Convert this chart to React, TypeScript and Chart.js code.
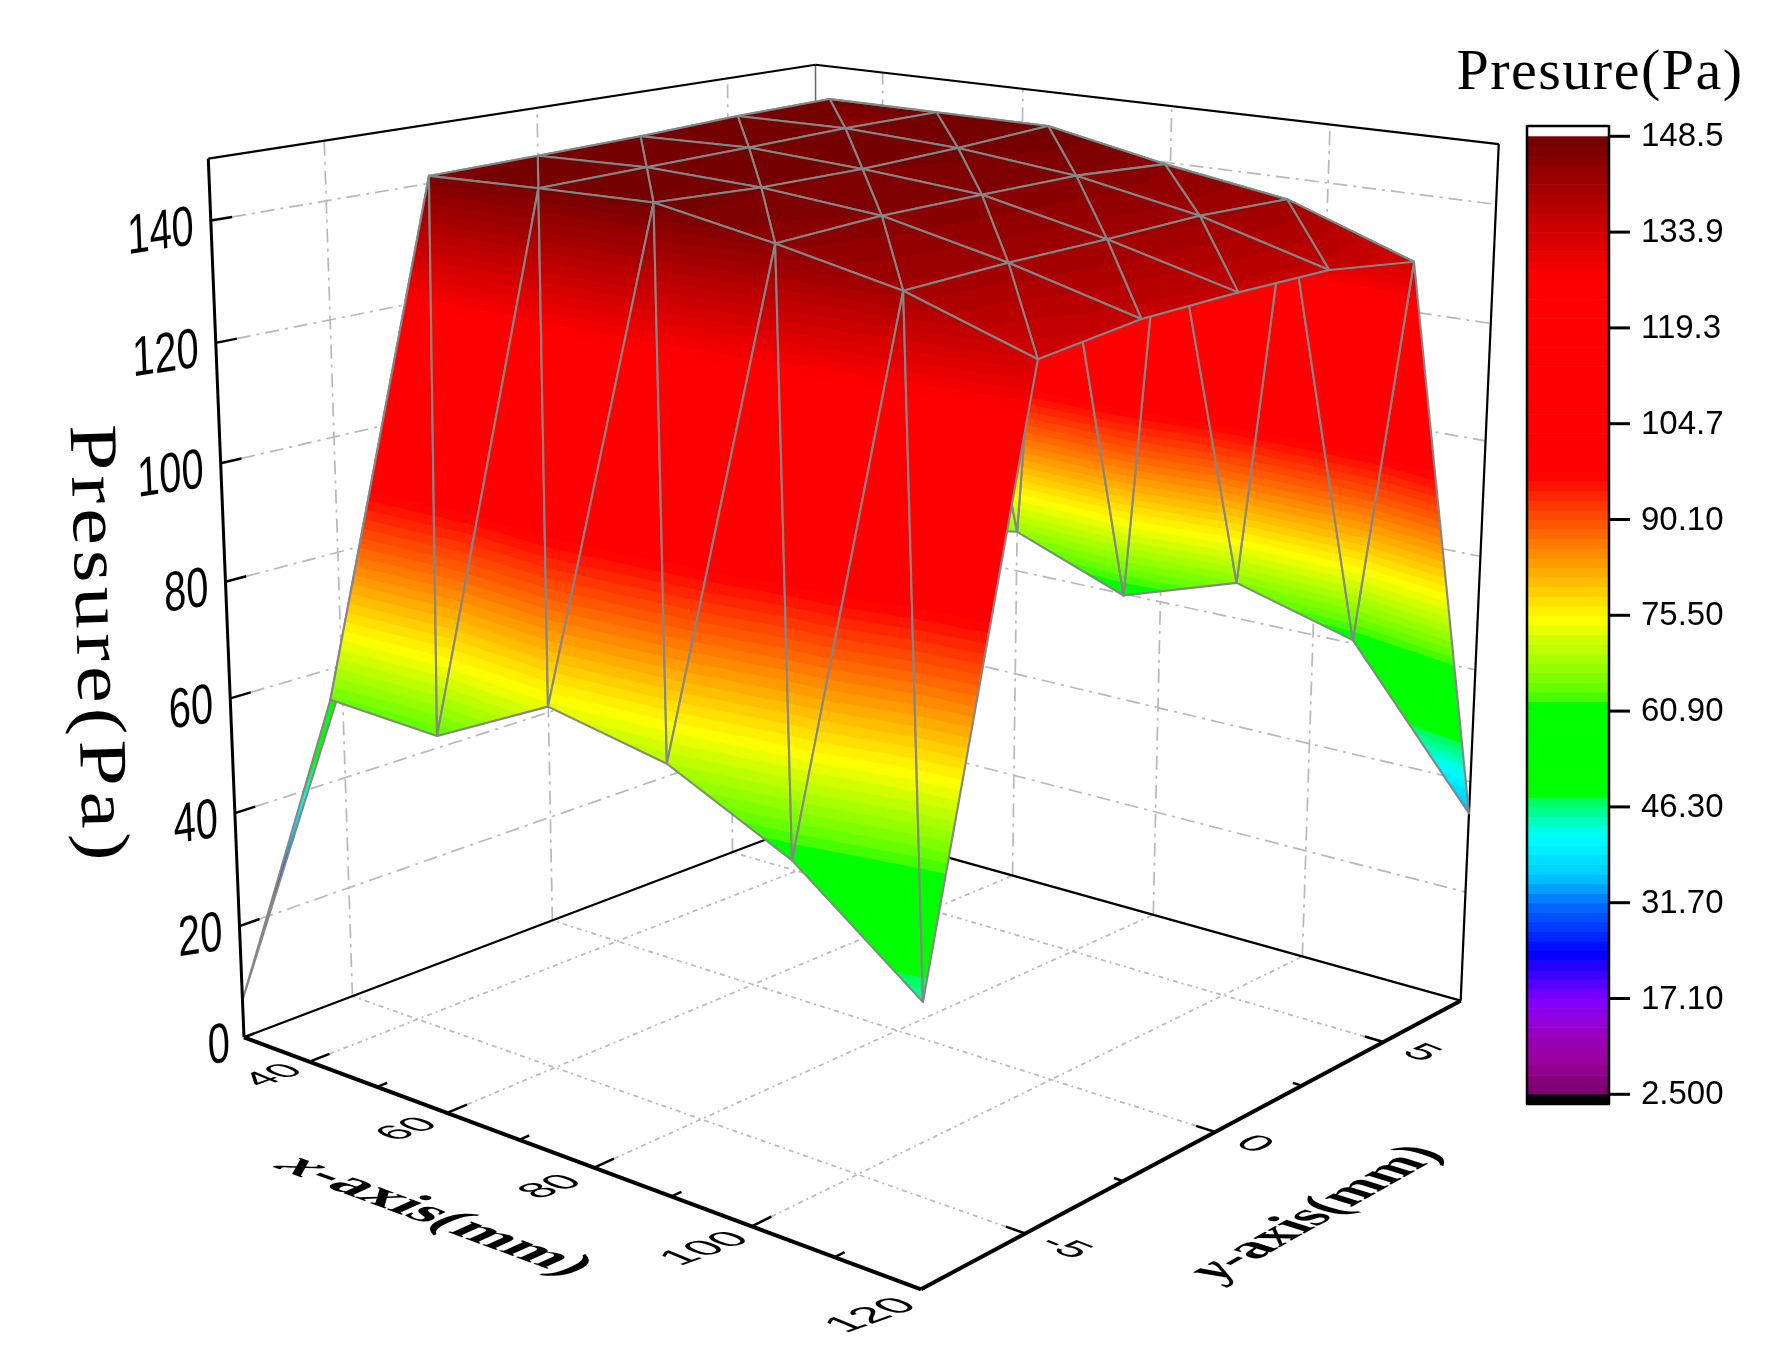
import React, { useEffect, useRef } from "react";
import { Chart, registerables } from "chart.js";

Chart.register(...registerables);

// ---- data ----
const xValues = [30, 45, 60, 75, 90, 105, 120];
const yValues = [-7.5, -5, -2.5, 0, 2.5, 5, 7.5];
const pressureYm75 = [6.7, 64.7, 63.7, 73.5, 69.6, 60.1, 44.5];
const pressureYm50 = [57, 146.8, 147.5, 148, 144.6, 140.6, 133.9];
const pressureYm25 = [62, 147.1, 147.8, 147.2, 145.5, 141.2, 135.9];
const pressureY00 = [63, 147.5, 148.1, 147.1, 145.6, 141.4, 136.2];
const pressureYp25 = [62, 148.2, 148.5, 147.6, 145.6, 141.8, 136.1];
const pressureYp50 = [60, 148.5, 148.5, 148.5, 144.5, 141.3, 133.9];
const pressureYp75 = [7, 64, 67.5, 59.7, 66.5, 60.6, 34.3];
const pressureRows = [pressureYm75, pressureYm50, pressureYm25, pressureY00, pressureYp25, pressureYp50, pressureYp75];

const xMajorTicks = [40, 60, 80, 100, 120];
const xMinorTicks = [30, 50, 70, 90, 110];
const yMajorTicks = [-5, 0, 5];
const yMinorTicks = [-2.5, 2.5];
const zTicks = [0, 20, 40, 60, 80, 100, 120, 140];
const colorbarLabels = ["148.5", "133.9", "119.3", "104.7", "90.10", "75.50", "60.90", "46.30", "31.70", "17.10", "2.500"];

const Z_MIN = 0, Z_MAX = 150;
const LEVEL_MIN = 2.5, LEVEL_MAX = 148.5, LEVEL_COUNT = 100;

const colorStops: [number, number[]][] = [
  [2.5, [119, 0, 102]], [7.7, [153, 0, 153]], [12.8, [153, 0, 204]], [17, [128, 0, 255]],
  [24, [0, 0, 255]], [31.7, [0, 112, 255]], [36, [0, 204, 255]], [42, [0, 255, 255]],
  [47.5, [0, 255, 85]], [48.1, [0, 255, 0]], [62.6, [0, 255, 0]], [63.2, [85, 255, 0]],
  [75, [255, 255, 0]], [97, [255, 0, 0]], [126.8, [255, 0, 0]], [148.5, [112, 0, 0]],
];

// ---- perspective camera of the 3D box (homogeneous basis) ----
const CAM_O = [244, 1037.3, 1];
const CAM_U = [545.3, 67.6, -0.143];
const CAM_V = [710.5, -77.4, 0.1698];
const CAM_W = [-47.8, -887.9, -0.058];

const xMin = xValues[0], xMax = xValues[xValues.length - 1];
const yMin = yValues[0], yMax = yValues[yValues.length - 1];

function homog(x: number, y: number, z: number) {
  const u = (x - xMin) / (xMax - xMin), v = (y - yMin) / (yMax - yMin), w = (z - Z_MIN) / (Z_MAX - Z_MIN);
  return [0, 1, 2].map((k) => CAM_O[k] + u * CAM_U[k] + v * CAM_V[k] + w * CAM_W[k]);
}
function project(x: number, y: number, z: number) {
  const h = homog(x, y, z);
  return { x: h[0] / h[2], y: h[1] / h[2] };
}
function colorFor(z: number) {
  for (let i = 1; i < colorStops.length; i++) {
    if (z <= colorStops[i][0]) {
      const [z0, c0] = colorStops[i - 1], [z1, c1] = colorStops[i];
      const t = Math.max(0, (z - z0) / (z1 - z0));
      return `rgb(${c0.map((c, k) => Math.round(c + (c1[k] - c) * t)).join(",")})`;
    }
  }
  return "rgb(112,0,0)";
}

type V3 = [number, number, number];
function clipAbove(poly: V3[], level: number): V3[] {
  const out: V3[] = [];
  for (let i = 0; i < poly.length; i++) {
    const a = poly[i], b = poly[(i + 1) % poly.length];
    const ia = a[2] >= level, ib = b[2] >= level;
    if (ia) out.push(a);
    if (ia !== ib) {
      const t = (level - a[2]) / (b[2] - a[2]);
      out.push([a[0] + (b[0] - a[0]) * t, a[1] + (b[1] - a[1]) * t, level]);
    }
  }
  return out;
}

const surface3D = {
  id: "surface3D",
  beforeDatasetsDraw(chart: any) {
    const ctx: CanvasRenderingContext2D = chart.ctx;
    const sx = (v: number) => chart.scales.x.getPixelForValue(v);
    const sy = (v: number) => chart.scales.y.getPixelForValue(v);
    const P = (x: number, y: number, z: number) => {
      const p = project(x, y, z);
      return [sx(p.x), sy(p.y)];
    };
    const line = (a: number[], b: number[], color: string, width: number, dash: number[] = []) => {
      ctx.save();
      ctx.strokeStyle = color;
      ctx.lineWidth = width;
      ctx.setLineDash(dash);
      ctx.beginPath();
      ctx.moveTo(a[0], a[1]);
      ctx.lineTo(b[0], b[1]);
      ctx.stroke();
      ctx.restore();
    };
    const text = (str: string, at: number[], r: number[], d: number[], font: string, align: CanvasTextAlign = "center", spacing = 0) => {
      ctx.save();
      ctx.transform(r[0], r[1], d[0], d[1], at[0], at[1]);
      ctx.font = font;
      (ctx as any).letterSpacing = `${spacing}px`;
      ctx.textAlign = align;
      ctx.textBaseline = "middle";
      ctx.fillStyle = "#000";
      ctx.fillText(str, 0, 0);
      ctx.restore();
    };
    // a title whose first letter (the variable name) is set in italics
    const varTitle = (head: string, tail: string, at: number[], r: number[], d: number[], size: number, weight: string) => {
      ctx.save();
      ctx.transform(r[0], r[1], d[0], d[1], at[0], at[1]);
      ctx.textBaseline = "middle";
      ctx.textAlign = "left";
      ctx.fillStyle = "#000";
      const fontHead = `italic ${weight} ${size}px "Liberation Serif"`;
      const fontTail = `${weight} ${size}px "Liberation Serif"`;
      ctx.font = fontHead;
      const w0 = ctx.measureText(head).width;
      ctx.font = fontTail;
      const w1 = ctx.measureText(tail).width;
      const start = -(w0 + w1) / 2;
      ctx.font = fontHead;
      ctx.fillText(head, start, 0);
      ctx.font = fontTail;
      ctx.fillText(tail, start + w0, 0);
      ctx.restore();
    };

    const GRID = "#b8b8b8";
    const WALL_DASH = [14, 6, 3, 6];
    const FLOOR_DASH = [5, 4, 2, 4];
    const xSpan = xMax - xMin, ySpan = yMax - yMin;

    // back walls and floor grid
    zTicks.slice(1).forEach((z) => {
      line(P(xMin, yMin + 0.03 * ySpan, z), P(xMin, yMax, z), GRID, 1.7, WALL_DASH);
      line(P(xMin, yMax, z), P(xMax, yMax, z), GRID, 1.7, WALL_DASH);
    });
    yMajorTicks.forEach((y) => {
      line(P(xMin, y, 0), P(xMin, y, Z_MAX), GRID, 1.7, WALL_DASH);
      line(P(xMax - 0.025 * xSpan, y, 0), P(xMin, y, 0), GRID, 1.7, FLOOR_DASH);
    });
    xMajorTicks.slice(0, -1).forEach((x) => {
      line(P(x, yMax, 0), P(x, yMax, Z_MAX), GRID, 1.7, WALL_DASH);
      line(P(x, yMin + 0.03 * ySpan, 0), P(x, yMax, 0), GRID, 1.7, FLOOR_DASH);
    });

    // box edges
    line(P(xMin, yMax, 0), P(xMin, yMax, Z_MAX), "#666", 1.5);
    line(P(xMin, yMin, Z_MAX), P(xMin, yMax, Z_MAX), "#000", 2.2);
    line(P(xMin, yMax, Z_MAX), P(xMax, yMax, Z_MAX), "#000", 2.2);
    line(P(xMax, yMax, 0), P(xMax, yMax, Z_MAX), "#000", 2.2);
    line(P(xMin, yMin, 0), P(xMin, yMax, 0), "#000", 2.2);
    line(P(xMax, yMax, 0), P(xMin, yMax, 0), "#000", 2.2);

    // surface, painted from far to near
    const meta = chart.getDatasetMeta(0).data;
    const nx = xValues.length, ny = yValues.length;
    const tris: number[][][] = [];
    for (let j = 0; j < ny - 1; j++) {
      for (let i = 0; i < nx - 1; i++) {
        tris.push([[i, j], [i + 1, j], [i, j + 1]]);
        tris.push([[i + 1, j], [i + 1, j + 1], [i, j + 1]]);
      }
    }
    const vert = (c: number[]): V3 => [xValues[c[0]], yValues[c[1]], pressureRows[c[1]][c[0]]];
    const depth = (t: number[][]) =>
      t.reduce((s, c) => { const v = vert(c); return s + homog(v[0], v[1], v[2])[2]; }, 0);
    tris.sort((a, b) => depth(b) - depth(a));
    const levelStep = (LEVEL_MAX - LEVEL_MIN) / LEVEL_COUNT;
    tris.forEach((t) => {
      const poly = t.map(vert);
      const zs = poly.map((p) => p[2]);
      const lo = Math.min(...zs), hi = Math.max(...zs);
      for (let k = 0; k < LEVEL_COUNT; k++) {
        const level = LEVEL_MIN + k * levelStep;
        if (level >= hi) break;
        if (level + levelStep <= lo) continue;
        const clipped = level <= lo ? poly : clipAbove(poly, level);
        if (clipped.length < 3) continue;
        ctx.fillStyle = colorFor(level + levelStep / 2);
        ctx.beginPath();
        clipped.forEach((p, n) => {
          const q = P(p[0], p[1], p[2]);
          if (n) ctx.lineTo(q[0], q[1]); else ctx.moveTo(q[0], q[1]);
        });
        ctx.closePath();
        ctx.fill();
      }
      ctx.strokeStyle = "#868686";
      ctx.lineWidth = 2.1;
      ctx.lineJoin = "round";
      ctx.beginPath();
      t.forEach((c, n) => {
        const el = meta[c[1] * nx + c[0]];
        if (n) ctx.lineTo(el.x, el.y); else ctx.moveTo(el.x, el.y);
      });
      ctx.closePath();
      ctx.stroke();
    });

    // axes
    line(P(xMin, yMin, 0), P(xMin, yMin, Z_MAX), "#000", 3);
    line(P(xMin, yMin, 0), P(xMax, yMin, 0), "#000", 4);
    line(P(xMax, yMin, 0), P(xMax, yMax, 0), "#000", 4);
    zTicks.slice(1).forEach((z) => line(P(xMin, yMin, z), P(xMin, yMin + 0.03 * ySpan, z), "#000", 2.5));
    xMajorTicks.slice(0, -1).forEach((x) => line(P(x, yMin, 0), P(x, yMin + 0.03 * ySpan, 0), "#000", 2.5));
    xMinorTicks.forEach((x) => line(P(x, yMin, 0), P(x, yMin + 0.015 * ySpan, 0), "#000", 2.5));
    yMajorTicks.forEach((y) => line(P(xMax, y, 0), P(xMax - 0.025 * xSpan, y, 0), "#000", 2.5));
    yMinorTicks.forEach((y) => line(P(xMax, y, 0), P(xMax - 0.012 * xSpan, y, 0), "#000", 2.5));

    // tick labels
    const SANS = '"Liberation Sans"';
    const SERIF = '"Liberation Serif"';
    zTicks.forEach((z) => {
      const p = P(xMin, yMin, z);
      const gap = z === 0 ? 14 : 17;
      text(String(z), [p[0] - gap, p[1] + 8], [0.71, -0.11], [0.04, 1], `56px ${SANS}`, "right");
    });
    xMajorTicks.forEach((x) => {
      const t = (x - xMin) / xSpan;
      const p = P(x, yMin - (0.05 + 0.025 * t) * ySpan, 0);
      const s = 0.84 + 0.12 * t;
      text(String(x), p, [1.06 * s, -0.38 * s], [0.92 * s, 0.38 * s], `44px ${SANS}`);
    });
    yMajorTicks.forEach((y) => {
      const p = P(xMax + 0.05 * xSpan, y, 0);
      text(String(y), p, [0.94 * 1.2, 0.37 * 1.2], [-0.88 * 0.95, 0.47 * 0.95], `38px ${SANS}`);
    });

    // axis titles
    text("Presure(Pa)", [95, 645], [0.03 * 1.22, 1.22], [-1, 0.03], `68px ${SERIF}`, "center", 4);
    text("Presure(Pa)", [1600, 74], [1.0, 0], [0, 1], `58px ${SERIF}`, "center", 1.5);
    varTitle("x", "-axis(mm)", [434, 1216], [0.94 * 1.16, 0.35 * 1.16], [-0.91, 0.41], 56, "bold");
    varTitle("y", "-axis(mm)", [1317, 1213], [0.87 * 0.97, -0.49 * 0.97], [0.95 * 1.1, 0.3 * 1.1], 56, "bold");

    // colour bar
    const CB_X0 = 1527, CB_X1 = 1609, CB_TOP = 126, CB_BOTTOM = 1104;
    const y148 = 136.3, y2 = 1094.3;
    const cbY = (z: number) => sy(y2 + ((z - LEVEL_MIN) / (LEVEL_MAX - LEVEL_MIN)) * (y148 - y2));
    for (let k = 0; k < LEVEL_COUNT; k++) {
      const level = LEVEL_MIN + k * levelStep;
      ctx.fillStyle = colorFor(level + levelStep / 2);
      const top = cbY(level + levelStep), bottom = cbY(level);
      ctx.fillRect(sx(CB_X0), top, sx(CB_X1) - sx(CB_X0), bottom - top + 0.6);
    }
    ctx.fillStyle = "#000";
    ctx.fillRect(sx(CB_X0), cbY(LEVEL_MIN), sx(CB_X1) - sx(CB_X0), sy(CB_BOTTOM) - cbY(LEVEL_MIN));
    ctx.strokeStyle = "#000";
    ctx.lineWidth = 2.5;
    ctx.strokeRect(sx(CB_X0), sy(CB_TOP), sx(CB_X1) - sx(CB_X0), sy(CB_BOTTOM) - sy(CB_TOP));
    colorbarLabels.forEach((label) => {
      const y = cbY(parseFloat(label));
      line([sx(CB_X1), y], [sx(1630), y], "#000", 3);
      text(label, [sx(1641), y + 1], [1, 0], [0, 1], `33px ${SANS}`, "left");
    });
  },
};

export default function App() {
  const ref = useRef<HTMLCanvasElement>(null);
  useEffect(() => {
    const vertices: { x: number; y: number }[] = [];
    yValues.forEach((y, j) => xValues.forEach((x, i) => vertices.push(project(x, y, pressureRows[j][i]))));
    const chart = new Chart(ref.current as HTMLCanvasElement, {
      type: "scatter",
      data: { datasets: [{ label: "Presure(Pa)", data: vertices, pointRadius: 0, showLine: false }] },
      options: {
        responsive: false,
        animation: false,
        devicePixelRatio: 1,
        layout: { padding: 0 },
        scales: {
          x: { type: "linear", min: 0, max: 1787, display: false },
          y: { type: "linear", min: 0, max: 1367, reverse: true, display: false },
        },
        plugins: { legend: { display: false }, tooltip: { enabled: false } },
      },
      plugins: [surface3D],
    } as any);
    return () => chart.destroy();
  }, []);
  return (
    <canvas
      ref={ref}
      width={1787}
      height={1367}
      style={{ position: "absolute", left: 0, top: 0, display: "block", background: "#fff" }}
    />
  );
}
